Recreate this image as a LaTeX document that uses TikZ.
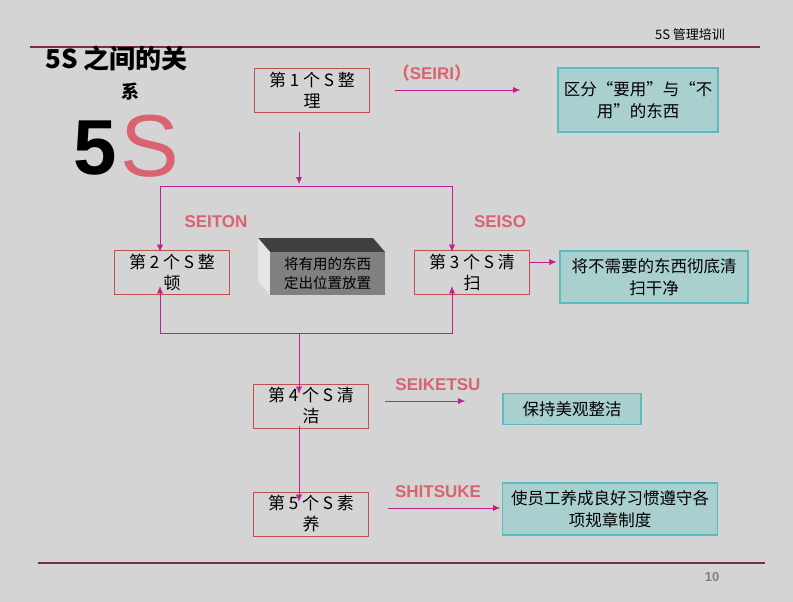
\documentclass[tikz,border=0pt]{standalone}
\usepackage{fontspec}
\setmainfont{Liberation Sans}
\newfontfamily\cjk{Noto Sans CJK SC}
\usetikzlibrary{positioning,arrows.meta}
\definecolor{bgray}{HTML}{D4D4D4}
\definecolor{maroon}{HTML}{7A2A50}
\definecolor{boxred}{HTML}{C0504D}
\definecolor{flow}{HTML}{C0208F}
\definecolor{pinklbl}{HTML}{D9636F}
\definecolor{tealfill}{HTML}{A9CFCF}
\definecolor{tealline}{HTML}{5BBCC0}
\tikzset{
  stepbox/.style={draw=boxred, thick, fill=bgray, minimum width=115pt, minimum height=44pt,
    align=center, inner sep=1pt, font=\cjk\fontsize{17}{21}\selectfont},
  notebox/.style={draw=tealline, very thick, fill=tealfill, align=center,
    font=\cjk\fontsize{16.5}{22}\selectfont},
  tag/.style={text=pinklbl, font=\bfseries\fontsize{17}{19}\selectfont},
  flowline/.style={draw=flow, thin, -{Latex[length=7pt,width=6pt]}},
}
\begin{document}
\begin{tikzpicture}[x=1pt, y=-1pt]
  \fill[bgray] (0,0) rectangle (793,602);
  \useasboundingbox (0,0) rectangle (793,602);
  %%% frame lines and header
  \draw[maroon, line width=2.5pt] (30,47) -- (760,47);
  \draw[maroon, line width=2.5pt] (38,563) -- (765,563);
  \node[font=\cjk\itshape\fontsize{13}{15}\selectfont] (hdr) at (690,35) {5S 管理培训};
  \node[text=gray, font=\bfseries\fontsize{13}{15}\selectfont] (pg) at (712,577) {10};
  %%% logo
  \node[anchor=west, font=\cjk\bfseries\fontsize{26}{28}\selectfont] (title) at (42,58) {5S 之间的关};
  \node[font=\cjk\bfseries\fontsize{18}{20}\selectfont] (title2) at (130,92) {系};
  \node[font=\bfseries\fontsize{78}{78}\selectfont] (five) at (95,148) {5};
  \node[text=pinklbl, font=\fontsize{88}{88}\selectfont] (ess) at (150,146) {S};
  %%% steps
  \node[stepbox] (s1) at (312,90) {第 1 个 S 整\\理};
  \node[stepbox] (s2) at (172,272) {第 2 个 S 整\\顿};
  \node[stepbox] (s3) at (472,272) {第 3 个 S 清\\扫};
  \node[stepbox] (s4) at (311,406) {第 4 个 S 清\\洁};
  \node[stepbox] (s5) at (311,514) {第 5 个 S 素\\养};
  %%% notes
  \node[notebox, minimum width=160pt, minimum height=64pt] (n1) at (638,100) {区分“要用”与“不\\用”的东西};
  \node[notebox, minimum width=188pt, minimum height=52pt] (n3) at (654,277) {将不需要的东西彻底清\\扫干净};
  \node[notebox, minimum width=138pt, minimum height=31pt] (n4) at (572,409) {保持美观整洁};
  \node[notebox, minimum width=215pt, minimum height=52pt] (n5) at (610,509) {使员工养成良好习惯遵守各\\项规章制度};
  %%% tags
  \node[tag] (t1) at (432,73) {{\cjk （}SEIRI{\cjk ）}};
  \node[tag] (t2) at (216,222) {SEITON};
  \node[tag] (t3) at (500,222) {SEISO};
  \node[tag] (t4) at (438,385) {SEIKETSU};
  \node[tag] (t5) at (438,492) {SHITSUKE};
  %%% gray block
  \fill[black!75] (258,238) -- (373,238) -- (385,252) -- (270,252) -- cycle;
  \fill[black!10] (258,238) -- (270,252) -- (270,295) -- (258,281) -- cycle;
  \node[fill=black!50, minimum width=115pt, minimum height=43pt, inner sep=0pt, align=center,
    font=\cjk\fontsize{14.5}{19}\selectfont] (blk) at (327.5,273.5) {将有用的东西\\定出位置放置};
  %%% connectors
  \coordinate (a1) at (395,90);  \coordinate (b1) at (520,90);
  \coordinate (split) at (299,186); \coordinate (join) at (299,333);
  \draw[flowline] (a1) -- (b1);
  \draw[flowline] (299,132) -- (299,184);
  \draw[flow, thin] (160,186) -- (452,186);
  \draw[flowline] (split) -| ([yshift=-2pt]s2.north -| 160,0);
  \draw[flowline] (split) -| ([yshift=-2pt]s3.north -| 452,0);
  \draw[flowline] (join) -| ([yshift=8pt]s2.south -| 160,0);
  \draw[flowline] (join) -| ([yshift=8pt]s3.south -| 452,0);
  \draw[flowline] (join) -- ([yshift=-10pt]s4.north -| join);
  \draw[flowline] (s3.east |- 0,262) -- ([xshift=-3pt]n3.west |- 0,262);
  \draw[flowline] (385,401) -- (465,401);
  \draw[flowline] ([yshift=2pt]s4.south -| join) -- ([yshift=-10pt]s5.north -| join);
  \draw[flowline] (388,508) -- (500,508);
\end{tikzpicture}
\end{document}
